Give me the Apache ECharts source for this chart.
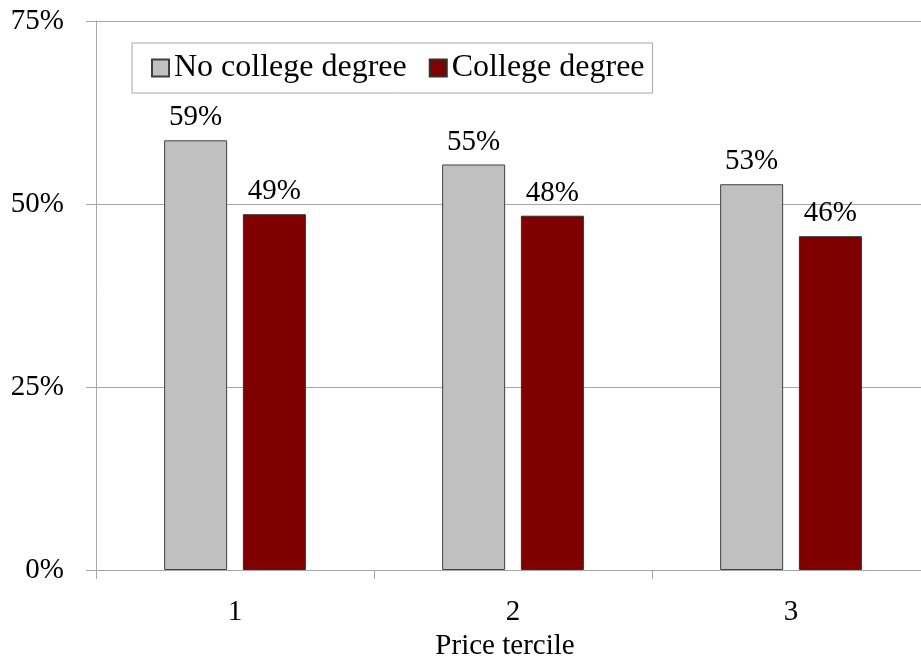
<!DOCTYPE html>
<html>
<head>
<meta charset="utf-8">
<script src="https://cdn.jsdelivr.net/npm/echarts@6/dist/echarts.min.js"></script>
<style>
  html, body { margin: 0; padding: 0; background: #fff; }
  #chart { width: 921px; height: 660px; }
</style>
</head>
<body>
<div id="chart"></div>
<script>
// price terciles on the x axis
const terciles = ['1', '2', '3'];
// shares (percent)
const noCollege = [58.7, 55.4, 52.7];
const college = [48.6, 48.4, 45.6];
const seriesNames = ['No college degree', 'College degree'];

const chart = echarts.init(document.getElementById('chart'));
const font = 'Liberation Serif, Times New Roman, serif';
const gridColor = '#a6a6a6';

const barLabel = {
  show: true,
  position: 'top',
  distance: 8,
  color: '#000',
  fontFamily: font,
  fontSize: 29,
  formatter: (p) => Math.round(p.value) + '%'
};

const option = {
  animation: false,
  textStyle: { fontFamily: font },
  legend: {
    left: 132,
    top: 43,
    padding: [9, 8, 9, 19],
    itemWidth: 17,
    itemHeight: 17,
    itemGap: 22,
    icon: 'rect',
    borderColor: gridColor,
    borderWidth: 1,
    textStyle: { fontFamily: font, fontSize: 32, color: '#000' },
    data: seriesNames
  },
  // plot runs past the right edge, as in the original
  grid: { left: 96, top: 21, width: 834, height: 549, outerBoundsMode: 'none' },
  xAxis: {
    type: 'category',
    data: terciles,
    name: 'Price tercile',
    nameLocation: 'middle',
    nameGap: 60,
    nameTextStyle: { fontFamily: font, fontSize: 29, color: '#000', padding: [0, 16, 0, 0] },
    axisLine: { lineStyle: { color: gridColor } },
    axisTick: { show: true, length: 9, lineStyle: { color: gridColor } },
    axisLabel: { margin: 28, fontFamily: font, fontSize: 29, color: '#000' }
  },
  yAxis: {
    type: 'value',
    min: 0,
    max: 75,
    interval: 25,
    axisLine: { show: true, lineStyle: { color: gridColor } },
    axisTick: { show: true, length: 10, lineStyle: { color: gridColor } },
    axisLabel: { margin: 32, fontFamily: font, fontSize: 29, color: '#000', formatter: '{value}%' },
    splitLine: { show: true, lineStyle: { color: gridColor } }
  },
  series: [
    {
      name: seriesNames[0],
      type: 'bar',
      data: noCollege,
      barWidth: 63,
      barGap: '25%',
      itemStyle: { color: '#c0c0c0', borderColor: '#404040', borderWidth: 1 },
      label: barLabel
    },
    {
      name: seriesNames[1],
      type: 'bar',
      data: college,
      barWidth: 63,
      itemStyle: { color: '#800000', borderColor: '#303030', borderWidth: 1 },
      label: barLabel
    }
  ]
};

chart.setOption(option);
</script>
</body>
</html>
